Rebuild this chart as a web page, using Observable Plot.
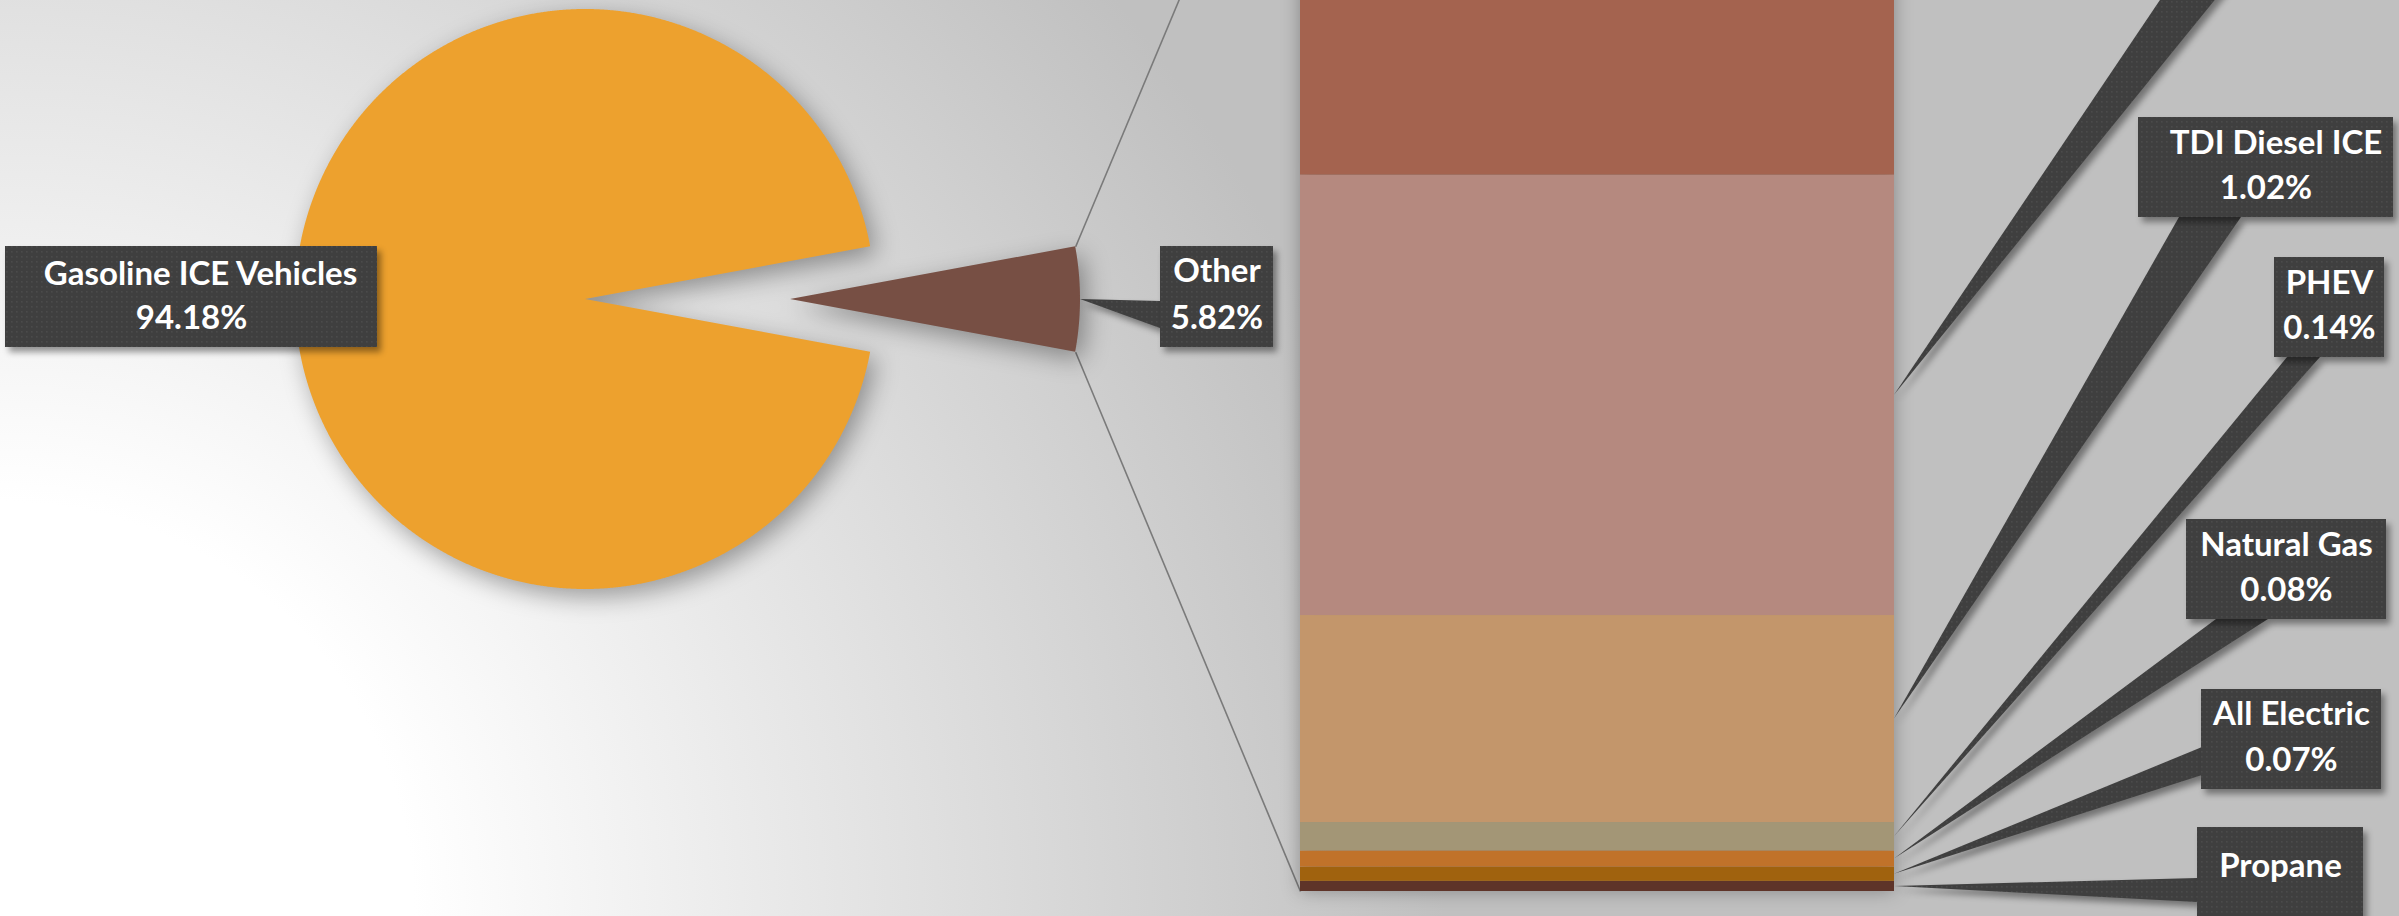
<!DOCTYPE html>
<html><head><meta charset="utf-8">
<script src="https://cdn.jsdelivr.net/npm/d3@7"></script>
<script src="https://cdn.jsdelivr.net/npm/@observablehq/plot@0.6"></script>
<style>
html,body{margin:0;padding:0;background:#fff;}
#chart{position:relative;width:2399px;height:916px;overflow:hidden;
  background: radial-gradient(circle at 0px 916px, #ffffff 414px, #c0c0c0 1445px);}
#chart svg{position:absolute;left:0;top:0;}
#pie-layer g[aria-label="area"]{filter: drop-shadow(6px 8px 12px rgba(0,0,0,0.35));}
#bar-layer g[aria-label="bar"]{filter: drop-shadow(0px 0px 9px rgba(0,0,0,0.30));}
#label-layer g[aria-label="area"], #label-layer g[aria-label="rect"]{filter: drop-shadow(4px 5px 3px rgba(0,0,0,0.40));}
</style></head>
<body><div id="chart"></div>
<script>
// ---------- data ----------
const pieCategories = ["Other", "Gasoline ICE Vehicles"];
const pieValues = [5.82, 94.18];
const pieColors = ["#774F44", "#EDA12E"];

const barCategories = ["Propane", "All Electric", "Natural Gas", "PHEV", "TDI Diesel ICE", "Hybrid", "Flex Fuel (E85)"];
const barValues = [0.05, 0.07, 0.08, 0.14, 1.02, 2.17, 2.29];
const barColors = ["#5E3429", "#A0620E", "#C0722A", "#A39676", "#C3966B", "#B5897F", "#A4634F"];

// ---------- layout (positions / sizes only) ----------
const W = 2399, H = 916;
const pieCenter = [585, 299], pieRadius = 290, explode = 205;
const barRangeX = [1300, 1894], barRangeY = [891, -290];
const fontSize = 33;
// label boxes: [x1,y1,x2,y2], line centres (null = outside the picture), pointer base points
const labelLayout = {
  "Gasoline ICE Vehicles": {box: [5, 246, 377, 347], nameY: 273.5, pctY: 318, nameDx: 9},
  "Other": {box: [1160, 246, 1273, 347], nameY: 271, pctY: 317.5, base: [[1160, 301], [1160, 328]]},
  "Flex Fuel (E85)": {box: null, nameY: null, pctY: null, base: [[2000, -320], [2060, -320]]},
  "Hybrid": {box: null, nameY: null, pctY: null, base: [[2234, -110], [2304, -110]]},
  "TDI Diesel ICE": {box: [2138, 117, 2393, 217], nameY: 142.5, pctY: 188, nameDx: 10, base: [[2179, 217], [2241, 217]]},
  "PHEV": {box: [2274, 257, 2384, 357], nameY: 282.5, pctY: 328, base: [[2287, 357], [2320, 357]]},
  "Natural Gas": {box: [2186, 519, 2386, 619], nameY: 544.5, pctY: 590, base: [[2216, 619], [2268, 619]]},
  "All Electric": {box: [2201, 689, 2381, 789], nameY: 714, pctY: 759.5, base: [[2202, 747], [2202, 775]]},
  "Propane": {box: [2197, 827, 2363, 927], nameY: 866, pctY: null, base: [[2197, 878], [2197, 902]]}
};
const fmt = v => d3.format(".2f")(v) + "%";

// ---------- bar (stacked) ----------
const barRows = barCategories.map((name, i) => ({group: "Other", name, value: barValues[i]}));
const barTotal = d3.sum(barValues);
const barPlot = Plot.plot({
  width: W, height: H, margin: 0,
  style: {background: "transparent", overflow: "hidden"},
  x: {type: "band", domain: ["Other"], range: barRangeX, padding: 0, axis: null},
  y: {domain: [0, barTotal], range: barRangeY, axis: null},
  color: {domain: barCategories, range: barColors},
  marks: [
    Plot.barY(barRows, {x: "group", y: "value", fill: "name", inset: 0})
  ]
});
barPlot.id = "bar-layer";
const xB = barPlot.scale("x"), yB = barPlot.scale("y");
const barLeft = xB.apply("Other"), barRight = barLeft + xB.bandwidth;

// ---------- pie ----------
const pieTotal = d3.sum(pieValues);
const startA = Math.PI / 2 - Math.PI * pieValues[0] / pieTotal;
const pieAngles = d3.pie().sort(null).startAngle(startA).endAngle(startA + 2 * Math.PI)(pieValues);
const pieRows = [];
const sliceInfo = {};
pieAngles.forEach((a, i) => {
  const name = pieCategories[i];
  const mid = (a.startAngle + a.endAngle) / 2;
  const off = name === "Other" ? explode : 0;
  const cx = pieCenter[0] + off * Math.sin(mid), cy = pieCenter[1] - off * Math.cos(mid);
  sliceInfo[name] = {cx, cy, a0: a.startAngle, a1: a.endAngle, mid};
  const n = Math.max(8, Math.ceil((a.endAngle - a.startAngle) / 0.004));
  for (let k = 0; k <= n; k++) {
    const t = a.startAngle + (a.endAngle - a.startAngle) * k / n;
    pieRows.push({name, x1: cx, y1: cy, x2: cx + pieRadius * Math.sin(t), y2: cy - pieRadius * Math.cos(t)});
  }
});
const o = sliceInfo["Other"];
const pt = (s, t) => [s.cx + pieRadius * Math.sin(t), s.cy - pieRadius * Math.cos(t)];
const cTop = pt(o, o.a0), cBot = pt(o, o.a1);
const connectors = [
  {k: "top", x1: cTop[0], y1: cTop[1], x2: barLeft, y2: yB.apply(barTotal)},
  {k: "bot", x1: cBot[0], y1: cBot[1], x2: barLeft, y2: yB.apply(0)}
];

const pix = {x: {type: "linear", domain: [0, W], range: [0, W], axis: null},
             y: {type: "linear", domain: [0, H], range: [0, H], axis: null}};

const piePlot = Plot.plot({
  width: W, height: H, margin: 0,
  style: {background: "transparent", overflow: "hidden"},
  ...pix,
  color: {domain: pieCategories, range: pieColors},
  marks: [
    Plot.link(connectors, {x1: "x1", y1: "y1", x2: "x2", y2: "y2", stroke: "#7a7a7a", strokeWidth: 1.6}),
    Plot.area(pieRows, {x1: "x1", y1: "y1", x2: "x2", y2: "y2", z: "name", fill: "name"})
  ]
});
piePlot.id = "pie-layer";

// ---------- callouts ----------
const barCum = d3.cumsum(barValues);
const tips = {};
barCategories.forEach((name, i) => { tips[name] = [barRight, yB.apply(barCum[i] - barValues[i] / 2)]; });
tips["Other"] = pt(o, o.mid);

const allNames = pieCategories.concat(barCategories);
const allValues = pieValues.concat(barValues);
const pointerRows = [];
allNames.forEach(name => {
  const L = labelLayout[name];
  if (!L.base || !tips[name]) return;
  const [tx, ty] = tips[name];
  pointerRows.push({name, x1: tx, y1: ty, x2: tx, y2: ty});
  pointerRows.push({name, x1: L.base[0][0], y1: L.base[0][1], x2: L.base[1][0], y2: L.base[1][1]});
});
const boxRows = allNames.filter(n => labelLayout[n].box).map(name => {
  const b = labelLayout[name].box;
  return {name, x1: b[0], y1: b[1], x2: b[2], y2: b[3]};
});
const textRows = [];
allNames.forEach((name, i) => {
  const L = labelLayout[name];
  if (!L.box) return;
  const cx = (L.box[0] + L.box[2]) / 2;
  if (L.nameY != null) textRows.push({x: cx + (L.nameDx || 0), y: L.nameY, text: name});
  if (L.pctY != null) textRows.push({x: cx, y: L.pctY, text: fmt(allValues[i])});
});

const labelPlot = Plot.plot({
  width: W, height: H, margin: 0,
  style: {background: "transparent", overflow: "hidden"},
  ...pix,
  marks: [
    Plot.area(pointerRows, {x1: "x1", y1: "y1", x2: "x2", y2: "y2", z: "name", fill: "#404040"}),
    Plot.rect(boxRows, {x1: "x1", y1: "y1", x2: "x2", y2: "y2", fill: "#404040"}),
    Plot.text(textRows, {x: "x", y: "y", text: "text", fill: "white", fontSize: fontSize, fontWeight: "bold",
      fontFamily: "Lato, 'Open Sans', sans-serif"})
  ]
});
labelPlot.id = "label-layer";
// subtle dotted texture on callouts
const ns = "http://www.w3.org/2000/svg";
const defs = document.createElementNS(ns, "defs");
defs.innerHTML = '<pattern id="dots" width="5" height="5" patternUnits="userSpaceOnUse">' +
  '<rect width="5" height="5" fill="#3f3f3f"/><rect x="1" y="1" width="1.6" height="1.6" fill="#4b4b4b"/></pattern>';
labelPlot.insertBefore(defs, labelPlot.firstChild);
labelPlot.querySelectorAll('g[aria-label="area"], g[aria-label="rect"]').forEach(g => {
  g.setAttribute("fill", "url(#dots)");
  g.querySelectorAll("path,rect").forEach(e => e.setAttribute("fill", "url(#dots)"));
});

const chart = document.getElementById("chart");
chart.appendChild(piePlot);
chart.appendChild(barPlot);
chart.appendChild(labelPlot);
</script>
</body></html>
